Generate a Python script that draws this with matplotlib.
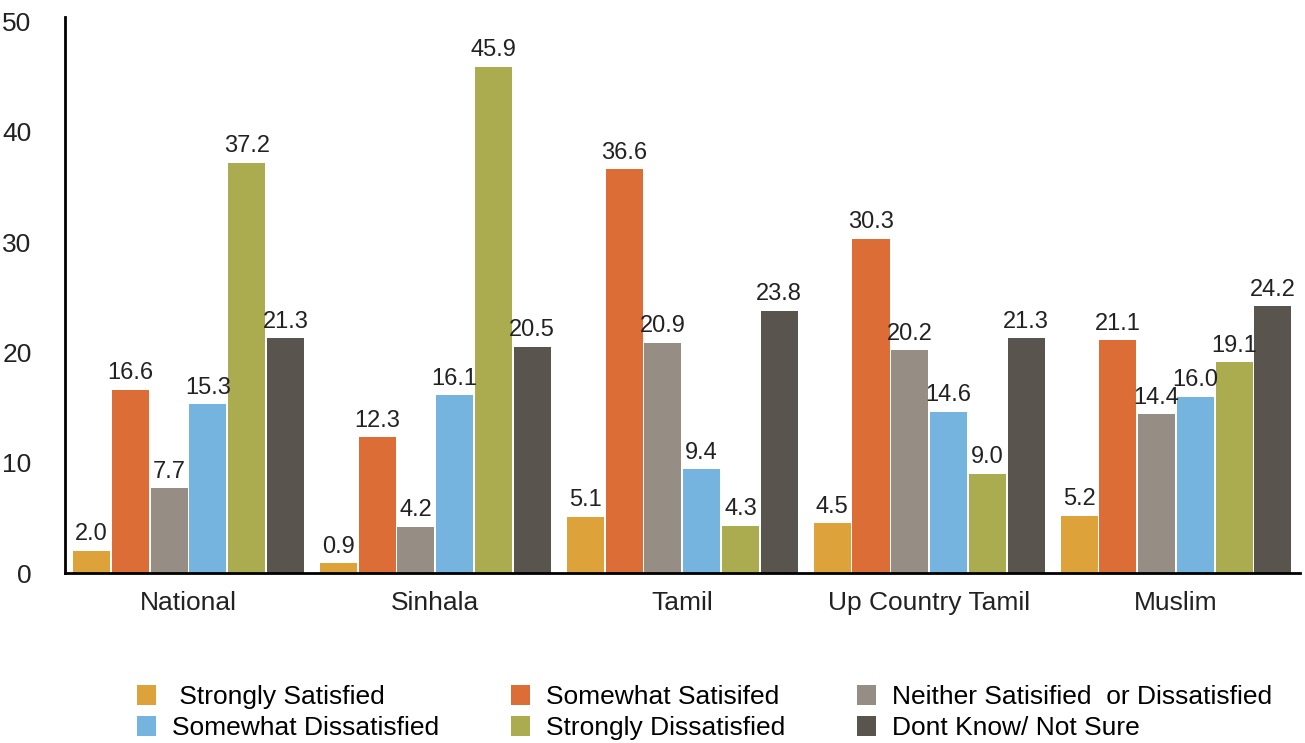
import numpy as np
import matplotlib
matplotlib.use("Agg")
import matplotlib.pyplot as plt

# Data
groups = ["National", "Sinhala", "Tamil", "Up Country Tamil", "Muslim"]
series = [" Strongly Satisfied", "Somewhat Satisifed", "Neither Satisified  or Dissatisfied",
          "Somewhat Dissatisfied", "Strongly Dissatisfied", "Dont Know/ Not Sure"]
strongly_satisfied = [2.0, 0.9, 5.1, 4.5, 5.2]
somewhat_satisfied = [16.6, 12.3, 36.6, 30.3, 21.1]
neither = [7.7, 4.2, 20.9, 20.2, 14.4]
somewhat_dissatisfied = [15.3, 16.1, 9.4, 14.6, 16.0]
strongly_dissatisfied = [37.2, 45.9, 4.3, 9.0, 19.1]
dont_know = [21.3, 20.5, 23.8, 21.3, 24.2]
values = [strongly_satisfied, somewhat_satisfied, neither,
          somewhat_dissatisfied, strongly_dissatisfied, dont_know]
colors = ["#DDA23A", "#DC6D37", "#968D84", "#76B4E0", "#ABAC4F", "#59554E"]

plt.rcParams['font.family'] = ['Liberation Sans', 'DejaVu Sans']

fig = plt.figure(figsize=(13.05, 7.43), dpi=100)
ax = fig.add_axes([0.0498, 0.2288, 0.946, 0.748])

x = np.arange(len(groups))
pitch = 0.157
width = 0.15
handles = []
for i, (vals, col) in enumerate(zip(values, colors)):
    pos = x + (i - 2.5) * pitch
    b = ax.bar(pos, vals, width, color=col, label=series[i])
    handles.append(b)
    for px, v in zip(pos, vals):
        ax.text(px, v + 0.5, f"{v:.1f}", ha="center", va="bottom", fontsize=17, color="#222222")

ax.set_xlim(-0.5, 4.5)
ax.set_ylim(0, 50.4)
ax.set_yticks([0, 10, 20, 30, 40, 50])
ax.set_xticks(x)
ax.set_xticklabels(groups)
ax.tick_params(axis="both", length=0, labelsize=19, colors="#222222")
ax.tick_params(axis="y", pad=24)
ax.tick_params(axis="x", pad=13)
for s in ["top", "right"]:
    ax.spines[s].set_visible(False)
for s in ["left", "bottom"]:
    ax.spines[s].set_linewidth(2)
    ax.spines[s].set_color("black")

# row-wise legend order for a 3-column legend
order = [0, 3, 1, 4, 2, 5]
fig.legend([handles[k] for k in order], [series[k] for k in order],
           loc="lower left", bbox_to_anchor=(0.093, -0.017), ncol=3, frameon=False,
           fontsize=19, handlelength=0.7, handleheight=0.8, handletextpad=0.6,
           columnspacing=2.75, labelspacing=0.25, borderpad=0.1)

fig.savefig("out.png", dpi=100)
